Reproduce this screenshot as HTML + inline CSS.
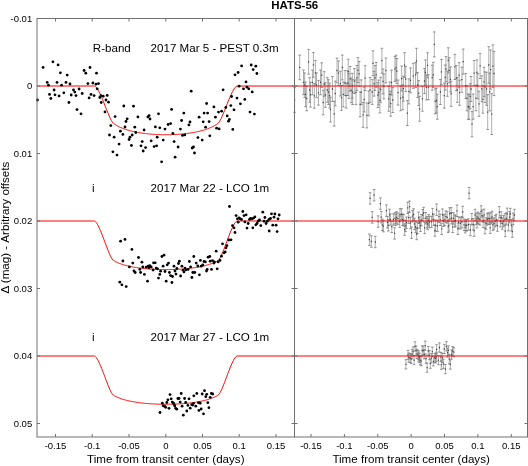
<!DOCTYPE html><html><head><meta charset="utf-8"><title>HATS-56</title><style>html,body{margin:0;padding:0;background:#fff;}svg{display:block;}text{font-family:"Liberation Sans",Arial,sans-serif;fill:#000;}</style></head><body>
<svg width="528" height="466" viewBox="0 0 528 466">
<rect width="528" height="466" fill="#fff"/>
<text x="294.7" y="8.6" font-size="11.5" font-weight="bold" text-anchor="middle">HATS-56</text>
<g font-size="9.5" text-anchor="middle">
<text x="55.5" y="449">-0.15</text><text x="311.0" y="449">-0.15</text>
<text x="92.2" y="449">-0.1</text><text x="344.4" y="449">-0.1</text>
<text x="129.0" y="449">-0.05</text><text x="377.8" y="449">-0.05</text>
<text x="165.8" y="449">0</text><text x="411.1" y="449">0</text>
<text x="202.5" y="449">0.05</text><text x="444.5" y="449">0.05</text>
<text x="239.2" y="449">0.1</text><text x="477.9" y="449">0.1</text>
<text x="276.0" y="449">0.15</text><text x="511.3" y="449">0.15</text>
</g>
<g font-size="9.5" text-anchor="end">
<text x="32.2" y="21.9">-0.01</text>
<text x="32.2" y="89.4">0</text>
<text x="32.2" y="156.9">0.01</text>
<text x="32.2" y="224.4">0.02</text>
<text x="32.2" y="291.9">0.03</text>
<text x="32.2" y="359.4">0.04</text>
<text x="32.2" y="426.9">0.05</text>
</g>
<g font-size="11.6" text-anchor="middle">
<text x="165.8" y="463.3">Time from transit center (days)</text>
<text x="411.1" y="463.3">Time from transit center (days)</text>
<text transform="translate(9.4 227.6) rotate(-90)">&#916; (mag) - Arbitrary offsets</text>
</g>
<g font-size="11.6">
<text x="92.8" y="52.2">R-band</text><text x="150.6" y="52.2">2017 Mar 5 - PEST 0.3m</text>
<text x="92.1" y="191.6">i</text><text x="150.6" y="191.6">2017 Mar 22 - LCO 1m</text>
<text x="92.1" y="340.8">i</text><text x="150.6" y="340.8">2017 Mar 27 - LCO 1m</text>
</g>
<polyline points="37.1,86.0 93.7,86.0 94.5,86.0 95.2,86.3 95.9,87.0 96.7,87.9 97.4,88.9 98.1,90.1 98.9,91.4 99.6,92.9 100.3,94.4 101.1,96.0 101.8,97.7 102.5,99.4 103.3,101.2 104.0,103.1 104.7,104.9 105.5,106.8 106.2,108.7 107.0,110.5 107.7,112.3 108.4,114.1 109.2,115.9 109.9,117.5 110.6,119.1 111.4,120.5 112.1,121.8 112.8,122.8 113.6,123.4 114.3,123.9 115.0,124.4 115.8,124.9 116.5,125.4 117.2,125.8 118.0,126.2 118.7,126.6 119.4,126.9 120.2,127.3 120.9,127.6 121.7,127.9 122.4,128.2 123.1,128.5 123.9,128.8 124.6,129.0 125.3,129.3 126.1,129.5 126.8,129.8 127.5,130.0 128.3,130.2 129.0,130.4 129.7,130.6 130.5,130.8 131.2,131.0 131.9,131.2 132.7,131.4 133.4,131.5 134.1,131.7 134.9,131.9 135.6,132.0 136.4,132.2 137.1,132.3 137.8,132.4 138.6,132.6 139.3,132.7 140.0,132.8 140.8,132.9 141.5,133.0 142.2,133.1 143.0,133.3 143.7,133.4 144.4,133.4 145.2,133.5 145.9,133.6 146.6,133.7 147.4,133.8 148.1,133.9 148.8,133.9 149.6,134.0 150.3,134.1 151.1,134.1 151.8,134.2 152.5,134.3 153.3,134.3 154.0,134.4 154.7,134.4 155.5,134.4 156.2,134.5 156.9,134.5 157.7,134.6 158.4,134.6 159.1,134.6 159.9,134.6 160.6,134.7 161.3,134.7 162.1,134.7 162.8,134.7 163.5,134.7 164.3,134.7 165.0,134.7 165.8,134.7 166.5,134.7 167.2,134.7 168.0,134.7 168.7,134.7 169.4,134.7 170.2,134.7 170.9,134.7 171.6,134.6 172.4,134.6 173.1,134.6 173.8,134.6 174.6,134.5 175.3,134.5 176.0,134.4 176.8,134.4 177.5,134.4 178.2,134.3 179.0,134.3 179.7,134.2 180.5,134.1 181.2,134.1 181.9,134.0 182.7,133.9 183.4,133.9 184.1,133.8 184.9,133.7 185.6,133.6 186.3,133.5 187.1,133.4 187.8,133.4 188.5,133.3 189.3,133.1 190.0,133.0 190.7,132.9 191.5,132.8 192.2,132.7 192.9,132.6 193.7,132.4 194.4,132.3 195.2,132.2 195.9,132.0 196.6,131.9 197.4,131.7 198.1,131.5 198.8,131.4 199.6,131.2 200.3,131.0 201.0,130.8 201.8,130.6 202.5,130.4 203.2,130.2 204.0,130.0 204.7,129.8 205.4,129.5 206.2,129.3 206.9,129.0 207.6,128.8 208.4,128.5 209.1,128.2 209.9,127.9 210.6,127.6 211.3,127.3 212.1,126.9 212.8,126.6 213.5,126.2 214.3,125.8 215.0,125.4 215.7,124.9 216.5,124.4 217.2,123.9 217.9,123.4 218.7,122.8 219.4,121.8 220.1,120.5 220.9,119.1 221.6,117.5 222.3,115.9 223.1,114.1 223.8,112.3 224.6,110.5 225.3,108.7 226.0,106.8 226.8,104.9 227.5,103.1 228.2,101.2 229.0,99.4 229.7,97.7 230.4,96.0 231.2,94.4 231.9,92.9 232.6,91.4 233.4,90.1 234.1,88.9 234.8,87.9 235.6,87.0 236.3,86.3 237.0,86.0 237.8,86.0 294.4,86.0" fill="none" stroke="#f00" stroke-width="1"/>
<polyline points="37.1,221.0 93.7,221.0 94.5,221.0 95.2,221.4 95.9,222.2 96.7,223.1 97.4,224.3 98.1,225.6 98.9,227.1 99.6,228.7 100.3,230.3 101.1,232.1 101.8,233.9 102.5,235.8 103.3,237.7 104.0,239.7 104.7,241.7 105.5,243.6 106.2,245.6 107.0,247.5 107.7,249.5 108.4,251.3 109.2,253.1 109.9,254.8 110.6,256.4 111.4,257.8 112.1,259.0 112.8,260.0 113.6,260.5 114.3,260.9 115.0,261.4 115.8,261.8 116.5,262.1 117.2,262.5 118.0,262.8 118.7,263.1 119.4,263.4 120.2,263.7 120.9,263.9 121.7,264.2 122.4,264.4 123.1,264.7 123.9,264.9 124.6,265.1 125.3,265.3 126.1,265.5 126.8,265.7 127.5,265.9 128.3,266.0 129.0,266.2 129.7,266.4 130.5,266.5 131.2,266.7 131.9,266.8 132.7,267.0 133.4,267.1 134.1,267.2 134.9,267.4 135.6,267.5 136.4,267.6 137.1,267.7 137.8,267.8 138.6,267.9 139.3,268.0 140.0,268.1 140.8,268.2 141.5,268.3 142.2,268.4 143.0,268.4 143.7,268.5 144.4,268.6 145.2,268.7 145.9,268.7 146.6,268.8 147.4,268.9 148.1,268.9 148.8,269.0 149.6,269.0 150.3,269.1 151.1,269.1 151.8,269.2 152.5,269.2 153.3,269.3 154.0,269.3 154.7,269.3 155.5,269.4 156.2,269.4 156.9,269.4 157.7,269.5 158.4,269.5 159.1,269.5 159.9,269.5 160.6,269.5 161.3,269.6 162.1,269.6 162.8,269.6 163.5,269.6 164.3,269.6 165.0,269.6 165.8,269.6 166.5,269.6 167.2,269.6 168.0,269.6 168.7,269.6 169.4,269.6 170.2,269.6 170.9,269.5 171.6,269.5 172.4,269.5 173.1,269.5 173.8,269.5 174.6,269.4 175.3,269.4 176.0,269.4 176.8,269.3 177.5,269.3 178.2,269.3 179.0,269.2 179.7,269.2 180.5,269.1 181.2,269.1 181.9,269.0 182.7,269.0 183.4,268.9 184.1,268.9 184.9,268.8 185.6,268.7 186.3,268.7 187.1,268.6 187.8,268.5 188.5,268.4 189.3,268.4 190.0,268.3 190.7,268.2 191.5,268.1 192.2,268.0 192.9,267.9 193.7,267.8 194.4,267.7 195.2,267.6 195.9,267.5 196.6,267.4 197.4,267.2 198.1,267.1 198.8,267.0 199.6,266.8 200.3,266.7 201.0,266.5 201.8,266.4 202.5,266.2 203.2,266.0 204.0,265.9 204.7,265.7 205.4,265.5 206.2,265.3 206.9,265.1 207.6,264.9 208.4,264.7 209.1,264.4 209.9,264.2 210.6,263.9 211.3,263.7 212.1,263.4 212.8,263.1 213.5,262.8 214.3,262.5 215.0,262.1 215.7,261.8 216.5,261.4 217.2,260.9 217.9,260.5 218.7,260.0 219.4,259.0 220.1,257.8 220.9,256.4 221.6,254.8 222.3,253.1 223.1,251.3 223.8,249.5 224.6,247.5 225.3,245.6 226.0,243.6 226.8,241.7 227.5,239.7 228.2,237.7 229.0,235.8 229.7,233.9 230.4,232.1 231.2,230.3 231.9,228.7 232.6,227.1 233.4,225.6 234.1,224.3 234.8,223.1 235.6,222.2 236.3,221.4 237.0,221.0 237.8,221.0 294.4,221.0" fill="none" stroke="#f00" stroke-width="1"/>
<polyline points="37.1,356.0 93.7,356.0 94.5,356.0 95.2,356.4 95.9,357.1 96.7,358.1 97.4,359.3 98.1,360.6 98.9,362.0 99.6,363.6 100.3,365.3 101.1,367.0 101.8,368.8 102.5,370.7 103.3,372.6 104.0,374.5 104.7,376.5 105.5,378.5 106.2,380.4 107.0,382.4 107.7,384.3 108.4,386.1 109.2,387.9 109.9,389.6 110.6,391.1 111.4,392.6 112.1,393.8 112.8,394.7 113.6,395.2 114.3,395.7 115.0,396.1 115.8,396.5 116.5,396.8 117.2,397.2 118.0,397.5 118.7,397.8 119.4,398.1 120.2,398.4 120.9,398.6 121.7,398.9 122.4,399.1 123.1,399.4 123.9,399.6 124.6,399.8 125.3,400.0 126.1,400.2 126.8,400.4 127.5,400.6 128.3,400.7 129.0,400.9 129.7,401.1 130.5,401.2 131.2,401.4 131.9,401.5 132.7,401.6 133.4,401.8 134.1,401.9 134.9,402.0 135.6,402.1 136.4,402.3 137.1,402.4 137.8,402.5 138.6,402.6 139.3,402.7 140.0,402.8 140.8,402.9 141.5,403.0 142.2,403.0 143.0,403.1 143.7,403.2 144.4,403.3 145.2,403.3 145.9,403.4 146.6,403.5 147.4,403.5 148.1,403.6 148.8,403.7 149.6,403.7 150.3,403.8 151.1,403.8 151.8,403.9 152.5,403.9 153.3,403.9 154.0,404.0 154.7,404.0 155.5,404.0 156.2,404.1 156.9,404.1 157.7,404.1 158.4,404.2 159.1,404.2 159.9,404.2 160.6,404.2 161.3,404.2 162.1,404.2 162.8,404.2 163.5,404.3 164.3,404.3 165.0,404.3 165.8,404.3 166.5,404.3 167.2,404.3 168.0,404.3 168.7,404.2 169.4,404.2 170.2,404.2 170.9,404.2 171.6,404.2 172.4,404.2 173.1,404.2 173.8,404.1 174.6,404.1 175.3,404.1 176.0,404.0 176.8,404.0 177.5,404.0 178.2,403.9 179.0,403.9 179.7,403.9 180.5,403.8 181.2,403.8 181.9,403.7 182.7,403.7 183.4,403.6 184.1,403.5 184.9,403.5 185.6,403.4 186.3,403.3 187.1,403.3 187.8,403.2 188.5,403.1 189.3,403.0 190.0,403.0 190.7,402.9 191.5,402.8 192.2,402.7 192.9,402.6 193.7,402.5 194.4,402.4 195.2,402.3 195.9,402.1 196.6,402.0 197.4,401.9 198.1,401.8 198.8,401.6 199.6,401.5 200.3,401.4 201.0,401.2 201.8,401.1 202.5,400.9 203.2,400.7 204.0,400.6 204.7,400.4 205.4,400.2 206.2,400.0 206.9,399.8 207.6,399.6 208.4,399.4 209.1,399.1 209.9,398.9 210.6,398.6 211.3,398.4 212.1,398.1 212.8,397.8 213.5,397.5 214.3,397.2 215.0,396.8 215.7,396.5 216.5,396.1 217.2,395.7 217.9,395.2 218.7,394.7 219.4,393.8 220.1,392.6 220.9,391.1 221.6,389.6 222.3,387.9 223.1,386.1 223.8,384.3 224.6,382.4 225.3,380.4 226.0,378.5 226.8,376.5 227.5,374.5 228.2,372.6 229.0,370.7 229.7,368.8 230.4,367.0 231.2,365.3 231.9,363.6 232.6,362.0 233.4,360.6 234.1,359.3 234.8,358.1 235.6,357.1 236.3,356.4 237.0,356.0 237.8,356.0 294.4,356.0" fill="none" stroke="#f00" stroke-width="1"/>
<g fill="#000">
<circle cx="43.1" cy="67.4" r="1.4"/>
<circle cx="52.9" cy="61.8" r="1.4"/>
<circle cx="58.1" cy="64.9" r="1.4"/>
<circle cx="60.4" cy="72.8" r="1.4"/>
<circle cx="67.2" cy="75.1" r="1.4"/>
<circle cx="84.1" cy="70.5" r="1.4"/>
<circle cx="85.8" cy="73.2" r="1.4"/>
<circle cx="90.0" cy="67.5" r="1.4"/>
<circle cx="96.5" cy="73.2" r="1.4"/>
<circle cx="47.2" cy="82.4" r="1.4"/>
<circle cx="57.0" cy="82.4" r="1.4"/>
<circle cx="66.0" cy="82.4" r="1.4"/>
<circle cx="70.0" cy="84.0" r="1.4"/>
<circle cx="48.5" cy="85.2" r="1.4"/>
<circle cx="61.6" cy="85.2" r="1.4"/>
<circle cx="87.9" cy="83.6" r="1.4"/>
<circle cx="92.9" cy="83.0" r="1.4"/>
<circle cx="96.0" cy="84.2" r="1.4"/>
<circle cx="98.5" cy="83.6" r="1.4"/>
<circle cx="54.1" cy="90.0" r="1.4"/>
<circle cx="49.5" cy="94.4" r="1.4"/>
<circle cx="50.8" cy="98.5" r="1.4"/>
<circle cx="55.0" cy="94.8" r="1.4"/>
<circle cx="59.1" cy="95.9" r="1.4"/>
<circle cx="63.8" cy="92.8" r="1.4"/>
<circle cx="73.5" cy="90.0" r="1.4"/>
<circle cx="74.8" cy="92.1" r="1.4"/>
<circle cx="71.2" cy="95.0" r="1.4"/>
<circle cx="76.0" cy="95.6" r="1.4"/>
<circle cx="79.1" cy="89.0" r="1.4"/>
<circle cx="82.2" cy="93.5" r="1.4"/>
<circle cx="68.9" cy="102.5" r="1.4"/>
<circle cx="77.0" cy="109.6" r="1.4"/>
<circle cx="81.0" cy="113.8" r="1.4"/>
<circle cx="89.1" cy="97.9" r="1.4"/>
<circle cx="91.0" cy="94.4" r="1.4"/>
<circle cx="94.1" cy="95.6" r="1.4"/>
<circle cx="97.2" cy="88.8" r="1.4"/>
<circle cx="99.8" cy="97.5" r="1.4"/>
<circle cx="101.2" cy="102.5" r="1.4"/>
<circle cx="37.5" cy="100.0" r="1.4"/>
<circle cx="101.0" cy="95.6" r="1.4"/>
<circle cx="103.2" cy="96.2" r="1.4"/>
<circle cx="107.2" cy="95.4" r="1.4"/>
<circle cx="106.0" cy="100.0" r="1.4"/>
<circle cx="108.5" cy="102.2" r="1.4"/>
<circle cx="105.0" cy="111.9" r="1.4"/>
<circle cx="123.8" cy="106.0" r="1.4"/>
<circle cx="133.5" cy="106.2" r="1.4"/>
<circle cx="115.1" cy="116.6" r="1.4"/>
<circle cx="127.2" cy="118.8" r="1.4"/>
<circle cx="126.0" cy="121.5" r="1.4"/>
<circle cx="137.9" cy="116.9" r="1.4"/>
<circle cx="147.9" cy="116.9" r="1.4"/>
<circle cx="149.1" cy="115.6" r="1.4"/>
<circle cx="150.0" cy="119.0" r="1.4"/>
<circle cx="158.5" cy="113.8" r="1.4"/>
<circle cx="110.8" cy="125.6" r="1.4"/>
<circle cx="125.0" cy="126.9" r="1.4"/>
<circle cx="134.8" cy="127.2" r="1.4"/>
<circle cx="144.1" cy="130.0" r="1.4"/>
<circle cx="155.4" cy="126.9" r="1.4"/>
<circle cx="159.8" cy="127.8" r="1.4"/>
<circle cx="120.4" cy="131.2" r="1.4"/>
<circle cx="122.9" cy="134.4" r="1.4"/>
<circle cx="135.8" cy="132.5" r="1.4"/>
<circle cx="132.2" cy="135.0" r="1.4"/>
<circle cx="109.5" cy="135.0" r="1.4"/>
<circle cx="114.1" cy="137.2" r="1.4"/>
<circle cx="130.0" cy="137.2" r="1.4"/>
<circle cx="157.2" cy="137.2" r="1.4"/>
<circle cx="129.1" cy="139.5" r="1.4"/>
<circle cx="119.1" cy="144.1" r="1.4"/>
<circle cx="131.4" cy="145.5" r="1.4"/>
<circle cx="112.9" cy="151.8" r="1.4"/>
<circle cx="117.0" cy="155.1" r="1.4"/>
<circle cx="142.2" cy="141.6" r="1.4"/>
<circle cx="141.0" cy="145.8" r="1.4"/>
<circle cx="145.6" cy="147.6" r="1.4"/>
<circle cx="143.2" cy="151.0" r="1.4"/>
<circle cx="151.2" cy="140.8" r="1.4"/>
<circle cx="154.1" cy="146.6" r="1.4"/>
<circle cx="156.6" cy="145.8" r="1.4"/>
<circle cx="161.6" cy="161.8" r="1.4"/>
<circle cx="191.2" cy="91.2" r="1.4"/>
<circle cx="206.6" cy="103.5" r="1.4"/>
<circle cx="213.9" cy="106.9" r="1.4"/>
<circle cx="171.6" cy="109.4" r="1.4"/>
<circle cx="183.8" cy="113.1" r="1.4"/>
<circle cx="204.1" cy="113.1" r="1.4"/>
<circle cx="207.6" cy="113.1" r="1.4"/>
<circle cx="218.5" cy="112.1" r="1.4"/>
<circle cx="221.6" cy="111.2" r="1.4"/>
<circle cx="199.1" cy="117.2" r="1.4"/>
<circle cx="215.4" cy="117.2" r="1.4"/>
<circle cx="181.6" cy="120.5" r="1.4"/>
<circle cx="190.0" cy="122.0" r="1.4"/>
<circle cx="188.9" cy="124.9" r="1.4"/>
<circle cx="203.2" cy="121.8" r="1.4"/>
<circle cx="209.1" cy="121.6" r="1.4"/>
<circle cx="168.1" cy="124.5" r="1.4"/>
<circle cx="170.6" cy="123.6" r="1.4"/>
<circle cx="165.0" cy="129.1" r="1.4"/>
<circle cx="180.4" cy="129.1" r="1.4"/>
<circle cx="205.6" cy="127.2" r="1.4"/>
<circle cx="216.6" cy="128.2" r="1.4"/>
<circle cx="219.1" cy="128.9" r="1.4"/>
<circle cx="172.9" cy="133.5" r="1.4"/>
<circle cx="182.5" cy="135.4" r="1.4"/>
<circle cx="184.8" cy="134.9" r="1.4"/>
<circle cx="163.2" cy="140.1" r="1.4"/>
<circle cx="174.1" cy="141.6" r="1.4"/>
<circle cx="197.9" cy="137.6" r="1.4"/>
<circle cx="202.2" cy="140.1" r="1.4"/>
<circle cx="209.8" cy="135.8" r="1.4"/>
<circle cx="178.1" cy="147.0" r="1.4"/>
<circle cx="192.2" cy="148.0" r="1.4"/>
<circle cx="193.5" cy="147.0" r="1.4"/>
<circle cx="194.5" cy="153.0" r="1.4"/>
<circle cx="175.1" cy="157.2" r="1.4"/>
<circle cx="241.6" cy="65.9" r="1.4"/>
<circle cx="251.2" cy="65.0" r="1.4"/>
<circle cx="255.8" cy="66.2" r="1.4"/>
<circle cx="253.2" cy="69.6" r="1.4"/>
<circle cx="256.9" cy="73.5" r="1.4"/>
<circle cx="238.1" cy="72.5" r="1.4"/>
<circle cx="235.0" cy="74.8" r="1.4"/>
<circle cx="246.0" cy="81.9" r="1.4"/>
<circle cx="239.1" cy="86.2" r="1.4"/>
<circle cx="243.5" cy="88.8" r="1.4"/>
<circle cx="247.0" cy="87.2" r="1.4"/>
<circle cx="248.8" cy="88.8" r="1.4"/>
<circle cx="252.2" cy="91.9" r="1.4"/>
<circle cx="223.1" cy="89.8" r="1.4"/>
<circle cx="231.6" cy="96.5" r="1.4"/>
<circle cx="237.0" cy="98.1" r="1.4"/>
<circle cx="244.8" cy="99.4" r="1.4"/>
<circle cx="240.4" cy="103.8" r="1.4"/>
<circle cx="230.8" cy="105.6" r="1.4"/>
<circle cx="225.8" cy="107.5" r="1.4"/>
<circle cx="234.0" cy="109.8" r="1.4"/>
<circle cx="250.0" cy="112.1" r="1.4"/>
<circle cx="254.4" cy="114.1" r="1.4"/>
<circle cx="227.2" cy="115.9" r="1.4"/>
<circle cx="229.4" cy="119.4" r="1.4"/>
<circle cx="228.5" cy="121.2" r="1.4"/>
<circle cx="232.8" cy="129.4" r="1.4"/>
<circle cx="120.6" cy="241.2" r="1.4"/>
<circle cx="125.0" cy="239.4" r="1.4"/>
<circle cx="131.9" cy="249.4" r="1.4"/>
<circle cx="138.5" cy="257.5" r="1.4"/>
<circle cx="122.9" cy="261.0" r="1.4"/>
<circle cx="132.8" cy="263.1" r="1.4"/>
<circle cx="129.4" cy="266.9" r="1.4"/>
<circle cx="141.9" cy="262.2" r="1.4"/>
<circle cx="142.8" cy="266.9" r="1.4"/>
<circle cx="139.8" cy="269.4" r="1.4"/>
<circle cx="134.0" cy="271.0" r="1.4"/>
<circle cx="135.2" cy="272.5" r="1.4"/>
<circle cx="140.6" cy="272.5" r="1.4"/>
<circle cx="144.4" cy="274.4" r="1.4"/>
<circle cx="146.2" cy="267.2" r="1.4"/>
<circle cx="148.1" cy="266.2" r="1.4"/>
<circle cx="149.8" cy="265.6" r="1.4"/>
<circle cx="151.2" cy="266.9" r="1.4"/>
<circle cx="149.0" cy="267.8" r="1.4"/>
<circle cx="153.5" cy="262.8" r="1.4"/>
<circle cx="155.2" cy="262.8" r="1.4"/>
<circle cx="153.1" cy="270.0" r="1.4"/>
<circle cx="156.2" cy="268.1" r="1.4"/>
<circle cx="157.5" cy="268.8" r="1.4"/>
<circle cx="161.9" cy="256.5" r="1.4"/>
<circle cx="164.0" cy="255.2" r="1.4"/>
<circle cx="163.1" cy="266.2" r="1.4"/>
<circle cx="167.2" cy="264.8" r="1.4"/>
<circle cx="168.5" cy="263.1" r="1.4"/>
<circle cx="160.6" cy="271.2" r="1.4"/>
<circle cx="165.0" cy="271.5" r="1.4"/>
<circle cx="159.8" cy="274.4" r="1.4"/>
<circle cx="158.5" cy="278.1" r="1.4"/>
<circle cx="169.4" cy="272.5" r="1.4"/>
<circle cx="170.6" cy="275.6" r="1.4"/>
<circle cx="172.5" cy="276.5" r="1.4"/>
<circle cx="174.0" cy="266.2" r="1.4"/>
<circle cx="175.0" cy="271.0" r="1.4"/>
<circle cx="166.2" cy="281.2" r="1.4"/>
<circle cx="147.5" cy="281.2" r="1.4"/>
<circle cx="119.8" cy="282.2" r="1.4"/>
<circle cx="171.9" cy="282.5" r="1.4"/>
<circle cx="121.9" cy="284.8" r="1.4"/>
<circle cx="126.2" cy="286.6" r="1.4"/>
<circle cx="179.4" cy="261.2" r="1.4"/>
<circle cx="178.5" cy="263.5" r="1.4"/>
<circle cx="181.9" cy="266.2" r="1.4"/>
<circle cx="176.9" cy="268.5" r="1.4"/>
<circle cx="183.1" cy="270.2" r="1.4"/>
<circle cx="184.0" cy="271.9" r="1.4"/>
<circle cx="186.0" cy="269.8" r="1.4"/>
<circle cx="188.1" cy="269.4" r="1.4"/>
<circle cx="185.0" cy="268.1" r="1.4"/>
<circle cx="189.4" cy="261.5" r="1.4"/>
<circle cx="190.6" cy="266.9" r="1.4"/>
<circle cx="193.8" cy="256.5" r="1.4"/>
<circle cx="192.8" cy="272.5" r="1.4"/>
<circle cx="194.8" cy="272.5" r="1.4"/>
<circle cx="196.2" cy="263.1" r="1.4"/>
<circle cx="197.8" cy="266.0" r="1.4"/>
<circle cx="200.4" cy="260.4" r="1.4"/>
<circle cx="201.2" cy="266.2" r="1.4"/>
<circle cx="202.8" cy="265.0" r="1.4"/>
<circle cx="204.0" cy="261.5" r="1.4"/>
<circle cx="205.4" cy="261.9" r="1.4"/>
<circle cx="208.1" cy="257.2" r="1.4"/>
<circle cx="209.8" cy="256.5" r="1.4"/>
<circle cx="210.2" cy="261.2" r="1.4"/>
<circle cx="212.5" cy="260.6" r="1.4"/>
<circle cx="214.4" cy="261.9" r="1.4"/>
<circle cx="214.0" cy="263.1" r="1.4"/>
<circle cx="216.2" cy="251.2" r="1.4"/>
<circle cx="218.1" cy="261.9" r="1.4"/>
<circle cx="220.0" cy="260.4" r="1.4"/>
<circle cx="221.5" cy="256.2" r="1.4"/>
<circle cx="222.5" cy="243.8" r="1.4"/>
<circle cx="224.0" cy="252.8" r="1.4"/>
<circle cx="225.2" cy="251.9" r="1.4"/>
<circle cx="226.0" cy="247.8" r="1.4"/>
<circle cx="226.9" cy="245.6" r="1.4"/>
<circle cx="228.8" cy="240.0" r="1.4"/>
<circle cx="231.0" cy="239.8" r="1.4"/>
<circle cx="232.5" cy="225.6" r="1.4"/>
<circle cx="234.0" cy="227.8" r="1.4"/>
<circle cx="235.0" cy="232.5" r="1.4"/>
<circle cx="206.5" cy="271.0" r="1.4"/>
<circle cx="207.2" cy="269.4" r="1.4"/>
<circle cx="211.5" cy="269.4" r="1.4"/>
<circle cx="217.2" cy="268.8" r="1.4"/>
<circle cx="176.0" cy="274.1" r="1.4"/>
<circle cx="180.6" cy="276.0" r="1.4"/>
<circle cx="191.9" cy="277.5" r="1.4"/>
<circle cx="199.4" cy="274.8" r="1.4"/>
<circle cx="229.5" cy="206.5" r="1.4"/>
<circle cx="236.1" cy="215.6" r="1.4"/>
<circle cx="237.4" cy="218.8" r="1.4"/>
<circle cx="239.0" cy="217.8" r="1.4"/>
<circle cx="240.2" cy="218.8" r="1.4"/>
<circle cx="241.5" cy="219.4" r="1.4"/>
<circle cx="238.2" cy="222.2" r="1.4"/>
<circle cx="242.8" cy="211.5" r="1.4"/>
<circle cx="244.0" cy="215.6" r="1.4"/>
<circle cx="246.1" cy="214.8" r="1.4"/>
<circle cx="244.9" cy="221.9" r="1.4"/>
<circle cx="248.2" cy="223.5" r="1.4"/>
<circle cx="247.0" cy="228.1" r="1.4"/>
<circle cx="249.5" cy="219.4" r="1.4"/>
<circle cx="250.5" cy="218.5" r="1.4"/>
<circle cx="252.0" cy="218.8" r="1.4"/>
<circle cx="253.6" cy="218.1" r="1.4"/>
<circle cx="254.9" cy="216.9" r="1.4"/>
<circle cx="252.8" cy="227.8" r="1.4"/>
<circle cx="255.8" cy="224.8" r="1.4"/>
<circle cx="257.0" cy="223.5" r="1.4"/>
<circle cx="258.2" cy="221.2" r="1.4"/>
<circle cx="259.5" cy="220.0" r="1.4"/>
<circle cx="260.8" cy="225.6" r="1.4"/>
<circle cx="262.8" cy="212.2" r="1.4"/>
<circle cx="264.9" cy="217.5" r="1.4"/>
<circle cx="264.0" cy="221.2" r="1.4"/>
<circle cx="266.1" cy="223.5" r="1.4"/>
<circle cx="267.4" cy="221.2" r="1.4"/>
<circle cx="269.0" cy="219.4" r="1.4"/>
<circle cx="270.5" cy="218.5" r="1.4"/>
<circle cx="271.5" cy="213.8" r="1.4"/>
<circle cx="274.9" cy="214.0" r="1.4"/>
<circle cx="274.0" cy="217.2" r="1.4"/>
<circle cx="279.2" cy="215.0" r="1.4"/>
<circle cx="278.0" cy="218.8" r="1.4"/>
<circle cx="272.8" cy="225.2" r="1.4"/>
<circle cx="276.1" cy="225.2" r="1.4"/>
<circle cx="269.2" cy="231.0" r="1.4"/>
<circle cx="277.1" cy="231.6" r="1.4"/>
<circle cx="160.0" cy="412.5" r="1.4"/>
<circle cx="162.3" cy="403.2" r="1.4"/>
<circle cx="163.2" cy="405.8" r="1.4"/>
<circle cx="164.6" cy="406.2" r="1.4"/>
<circle cx="165.7" cy="407.3" r="1.4"/>
<circle cx="166.8" cy="402.5" r="1.4"/>
<circle cx="167.9" cy="399.8" r="1.4"/>
<circle cx="169.0" cy="408.3" r="1.4"/>
<circle cx="170.0" cy="394.6" r="1.4"/>
<circle cx="171.2" cy="398.8" r="1.4"/>
<circle cx="172.3" cy="402.1" r="1.4"/>
<circle cx="173.5" cy="403.2" r="1.4"/>
<circle cx="174.2" cy="404.8" r="1.4"/>
<circle cx="174.8" cy="406.0" r="1.4"/>
<circle cx="175.7" cy="408.3" r="1.4"/>
<circle cx="176.8" cy="409.2" r="1.4"/>
<circle cx="177.9" cy="398.5" r="1.4"/>
<circle cx="179.0" cy="398.5" r="1.4"/>
<circle cx="180.2" cy="402.1" r="1.4"/>
<circle cx="181.2" cy="393.5" r="1.4"/>
<circle cx="182.1" cy="406.2" r="1.4"/>
<circle cx="183.3" cy="415.2" r="1.4"/>
<circle cx="184.6" cy="398.5" r="1.4"/>
<circle cx="185.7" cy="402.5" r="1.4"/>
<circle cx="186.8" cy="411.0" r="1.4"/>
<circle cx="187.9" cy="405.4" r="1.4"/>
<circle cx="189.0" cy="398.8" r="1.4"/>
<circle cx="190.2" cy="408.2" r="1.4"/>
<circle cx="191.7" cy="404.6" r="1.4"/>
<circle cx="192.7" cy="405.0" r="1.4"/>
<circle cx="193.8" cy="395.8" r="1.4"/>
<circle cx="193.5" cy="403.3" r="1.4"/>
<circle cx="196.8" cy="393.5" r="1.4"/>
<circle cx="195.8" cy="406.2" r="1.4"/>
<circle cx="198.5" cy="402.7" r="1.4"/>
<circle cx="200.2" cy="403.2" r="1.4"/>
<circle cx="198.9" cy="410.4" r="1.4"/>
<circle cx="201.2" cy="409.0" r="1.4"/>
<circle cx="202.2" cy="394.0" r="1.4"/>
<circle cx="203.5" cy="413.8" r="1.4"/>
<circle cx="204.5" cy="390.7" r="1.4"/>
<circle cx="205.8" cy="396.7" r="1.4"/>
<circle cx="206.7" cy="394.3" r="1.4"/>
<circle cx="207.8" cy="402.7" r="1.4"/>
<circle cx="208.9" cy="407.7" r="1.4"/>
<circle cx="210.2" cy="397.3" r="1.4"/>
<circle cx="211.4" cy="393.5" r="1.4"/>
<circle cx="212.7" cy="394.0" r="1.4"/>
</g>
<path d="M299.7 55.1V79.7M308.6 49.4V74.1M313.4 52.6V77.2M315.4 60.4V85.1M321.7 62.8V87.4M337.0 58.1V82.9M338.5 60.9V85.6M342.3 55.1V79.9M348.2 59.2V84.0M303.5 70.1V94.7M312.4 70.1V94.7M320.5 70.1V94.7M324.2 71.7V96.3M304.6 72.9V97.6M316.5 72.9V97.6M340.4 71.2V96.0M345.0 70.6V95.4M347.8 70.8V95.5M350.1 66.5V91.2M309.7 77.7V102.3M305.5 82.1V106.7M306.7 86.2V110.8M310.5 82.4V107.1M314.3 83.6V108.2M318.5 80.4V105.1M327.3 77.7V102.3M328.5 79.7V104.5M325.3 82.7V107.3M329.6 83.2V108.0M332.4 76.6V101.4M335.3 81.1V105.9M323.2 90.2V114.8M330.5 97.2V122.0M334.2 101.4V126.1M341.5 85.5V110.3M343.2 82.0V106.8M346.1 83.2V108.0M348.9 73.7V98.4M351.2 78.0V102.7M352.6 79.7V104.5M294.6 87.7V112.3M352.3 73.4V98.1M354.4 68.7V93.5M358.0 57.7V82.5M356.9 65.5V90.3M359.1 61.5V86.3M356.0 79.9V104.7M373.0 50.8V75.7M381.9 48.3V73.1M365.1 65.7V90.5M376.2 62.4V87.3M375.0 65.6V90.4M385.9 58.0V82.9M394.9 56.6V81.5M396.0 55.2V80.1M396.8 58.5V83.4M404.6 52.7V77.6M361.2 79.9V104.7M374.1 71.3V96.1M383.0 69.0V93.9M391.5 70.1V95.0M401.7 66.0V90.9M405.7 66.6V91.6M370.0 77.5V102.3M372.2 79.6V104.4M383.9 74.0V98.9M380.7 77.3V102.2M360.1 92.0V116.8M364.2 87.1V111.9M378.7 80.1V105.0M403.4 76.2V101.2M377.9 82.6V107.5M368.8 90.9V115.8M379.9 88.0V112.9M363.1 102.5V127.3M366.9 103.0V127.9M389.8 82.0V106.9M388.7 86.3V111.2M392.8 87.6V112.5M390.7 91.3V116.2M398.0 80.1V105.0M400.6 85.8V110.7M402.8 84.8V109.7M407.4 100.6V125.5M434.3 31.9V56.9M448.3 47.8V72.9M454.9 54.4V79.5M416.5 48.3V73.2M427.5 52.8V77.8M446.0 56.6V81.7M449.2 57.8V82.8M459.1 62.7V87.7M461.9 67.2V92.3M441.4 59.4V84.5M456.3 65.6V90.7M425.5 60.0V85.0M433.2 62.4V87.5M432.2 65.2V90.2M445.2 65.0V90.1M450.5 66.9V91.9M413.3 63.3V88.3M415.6 62.4V87.4M410.5 67.9V92.8M424.5 68.5V93.5M447.4 71.2V96.3M457.3 77.4V102.4M459.6 80.2V105.3M417.6 72.4V97.4M426.4 74.9V99.9M428.4 74.7V99.7M408.9 78.9V103.9M418.7 80.6V105.5M440.4 79.5V104.5M444.3 83.1V108.1M451.1 81.3V106.3M422.4 86.2V111.2M435.2 88.8V113.8M436.4 88.0V113.0M437.3 94.2V119.2M419.6 96.3V121.2M480.1 53.3V78.5M488.8 46.7V83.3M492.9 44.9V87.6M490.6 50.0V89.2M494.0 51.4V95.6M476.9 59.9V85.1M474.1 60.5V85.6M484.1 67.2V96.6M477.8 73.7V98.8M481.8 75.8V101.7M485.0 71.9V102.6M486.6 72.2V105.3M489.7 73.0V110.8M463.2 49.1V74.2M471.0 76.5V101.6M475.9 85.5V110.7M482.9 85.6V113.2M479.0 91.2V116.3M470.2 83.7V108.9M465.7 73.5V98.6M473.2 94.1V119.2M487.7 94.7V129.5M491.7 93.7V134.5M467.0 85.7V110.8M469.0 94.4V119.6M468.2 94.1V119.2M472.0 111.6V136.8M370.1 192.7V204.1M374.1 189.5V200.9M380.4 197.9V209.3M386.4 204.9V216.3M372.2 211.7V223.1M381.2 211.4V222.8M378.1 215.9V227.3M389.5 209.2V220.6M390.3 213.8V225.2M387.5 216.6V228.0M382.3 219.1V230.5M383.4 220.4V231.8M388.3 219.6V231.0M391.8 221.1V232.5M393.4 213.8V225.2M395.1 212.6V224.0M396.6 211.8V223.2M398.0 213.0V224.4M395.9 214.1V225.5M400.0 208.8V220.2M401.6 208.7V220.1M399.7 216.0V227.4M402.5 214.0V225.4M403.7 214.6V226.0M407.7 202.2V213.6M409.6 201.0V212.4M408.7 212.0V223.4M412.5 210.5V221.9M413.6 208.8V220.2M406.5 217.0V228.4M410.5 217.2V228.6M405.7 220.2V231.6M404.6 223.9V235.3M414.5 218.2V229.6M415.6 221.3V232.7M417.3 222.3V233.7M418.6 212.1V223.5M419.6 216.9V228.3M411.6 227.0V238.4M394.6 227.7V239.1M369.4 234.0V245.4M416.7 228.3V239.7M371.3 235.8V247.2M375.3 236.3V247.7M423.6 207.3V218.7M422.7 209.5V220.9M425.8 212.5V223.9M421.3 214.5V225.9M426.9 216.6V228.0M427.7 218.3V229.7M429.5 216.3V227.7M431.5 216.2V227.6M428.6 214.6V226.0M432.6 208.4V219.8M433.7 214.0V225.4M436.6 204.0V215.4M435.7 219.9V231.3M437.5 220.2V231.6M438.9 211.0V222.4M440.2 214.1V225.5M442.6 209.0V220.4M443.4 215.1V226.5M444.8 214.1V225.5M445.9 210.9V222.3M447.2 211.7V223.1M449.6 207.8V219.2M451.1 207.6V219.0M451.6 212.5V223.9M453.6 212.7V224.1M455.3 214.8V226.2M455.0 215.8V227.2M457.0 205.1V216.5M458.7 216.8V228.2M460.4 217.6V229.0M461.8 216.5V227.9M462.7 206.3V217.7M464.1 219.1V230.5M465.2 221.5V232.9M465.9 219.4V230.8M466.7 219.6V231.0M468.4 218.9V230.3M470.4 224.3V235.7M471.8 213.5V224.9M473.2 218.6V230.0M474.1 224.9V236.3M448.2 221.1V232.5M448.9 219.7V231.1M452.7 221.1V232.5M457.9 223.1V234.5M420.5 220.0V231.4M424.6 222.2V233.6M434.9 224.8V236.2M441.7 223.2V234.6M469.1 187.4V198.8M475.1 209.3V220.7M476.2 213.1V224.4M477.7 212.1V223.4M478.8 213.1V224.4M480.0 213.7V225.1M477.0 216.6V227.9M481.1 205.8V217.2M482.2 209.9V221.3M484.1 209.1V220.4M483.1 216.2V227.6M486.1 217.8V229.2M485.0 222.4V233.8M487.2 213.7V225.1M488.1 212.8V224.2M489.5 213.1V224.4M491.0 212.4V223.8M492.1 211.2V222.6M490.2 222.1V233.4M492.9 219.1V230.4M494.0 217.8V229.2M495.2 215.6V226.9M496.3 214.3V225.7M497.5 219.9V231.3M499.3 206.6V217.9M501.2 211.8V223.2M500.4 215.6V226.9M502.3 217.8V229.2M503.5 215.6V226.9M504.9 213.7V225.1M506.3 212.8V224.2M507.2 208.1V219.4M510.3 208.3V219.7M509.5 211.6V222.9M514.3 209.3V220.7M513.1 213.1V224.4M508.4 219.6V230.9M511.4 219.6V230.9M505.2 225.3V236.7M512.3 225.9V237.3M405.9 359.7V368.9M408.0 350.4V359.6M408.8 353.0V362.2M410.1 353.4V362.6M411.1 354.4V363.6M412.1 349.6V358.8M413.1 346.9V356.1M414.1 355.5V364.7M415.0 341.8V351.0M416.1 346.0V355.2M417.1 349.3V358.5M418.2 350.5V359.7M418.8 352.1V361.3M419.4 353.3V362.5M420.2 355.6V364.8M421.2 356.6V365.8M422.2 345.9V355.1M423.2 346.0V355.2M424.3 349.7V358.9M425.2 341.1V350.3M426.0 354.0V363.2M427.1 363.0V372.2M428.3 346.4V355.6M429.3 350.5V359.7M430.3 359.1V368.3M431.3 353.6V362.8M432.3 347.1V356.3M433.4 356.7V365.9M434.7 353.3V362.5M435.6 353.8V363.0M436.6 344.7V353.9M436.4 352.2V361.4M439.4 342.9V352.1M438.4 355.5V364.7M440.9 352.4V361.6M442.4 353.2V362.4M441.3 360.2V369.4M443.4 359.2V368.4M444.3 344.4V353.6M445.4 364.5V373.7M446.4 341.7V350.9M447.5 348.0V357.2M448.4 345.8V355.0M449.3 354.6V363.8M450.3 359.9V369.1M451.5 349.9V359.1M452.6 346.6V355.8M453.8 347.6V356.8" stroke="#939393" stroke-width="0.75" fill="none"/>
<path d="M298.4 55.1h2.6M298.4 79.7h2.6M307.3 49.4h2.6M307.3 74.1h2.6M312.1 52.6h2.6M312.1 77.2h2.6M314.1 60.4h2.6M314.1 85.1h2.6M320.4 62.8h2.6M320.4 87.4h2.6M335.7 58.1h2.6M335.7 82.9h2.6M337.2 60.9h2.6M337.2 85.6h2.6M341.0 55.1h2.6M341.0 79.9h2.6M346.9 59.2h2.6M346.9 84.0h2.6M302.2 70.1h2.6M302.2 94.7h2.6M311.1 70.1h2.6M311.1 94.7h2.6M319.2 70.1h2.6M319.2 94.7h2.6M322.9 71.7h2.6M322.9 96.3h2.6M303.3 72.9h2.6M303.3 97.6h2.6M315.2 72.9h2.6M315.2 97.6h2.6M339.1 71.2h2.6M339.1 96.0h2.6M343.7 70.6h2.6M343.7 95.4h2.6M346.5 70.8h2.6M346.5 95.5h2.6M348.8 66.5h2.6M348.8 91.2h2.6M308.4 77.7h2.6M308.4 102.3h2.6M304.2 82.1h2.6M304.2 106.7h2.6M305.4 86.2h2.6M305.4 110.8h2.6M309.2 82.4h2.6M309.2 107.1h2.6M313.0 83.6h2.6M313.0 108.2h2.6M317.2 80.4h2.6M317.2 105.1h2.6M326.0 77.7h2.6M326.0 102.3h2.6M327.2 79.7h2.6M327.2 104.5h2.6M324.0 82.7h2.6M324.0 107.3h2.6M328.3 83.2h2.6M328.3 108.0h2.6M331.1 76.6h2.6M331.1 101.4h2.6M334.0 81.1h2.6M334.0 105.9h2.6M321.9 90.2h2.6M321.9 114.8h2.6M329.2 97.2h2.6M329.2 122.0h2.6M332.9 101.4h2.6M332.9 126.1h2.6M340.2 85.5h2.6M340.2 110.3h2.6M341.9 82.0h2.6M341.9 106.8h2.6M344.8 83.2h2.6M344.8 108.0h2.6M347.6 73.7h2.6M347.6 98.4h2.6M349.9 78.0h2.6M349.9 102.7h2.6M351.3 79.7h2.6M351.3 104.5h2.6M293.3 87.7h2.6M293.3 112.3h2.6M351.0 73.4h2.6M351.0 98.1h2.6M353.1 68.7h2.6M353.1 93.5h2.6M356.7 57.7h2.6M356.7 82.5h2.6M355.6 65.5h2.6M355.6 90.3h2.6M357.8 61.5h2.6M357.8 86.3h2.6M354.7 79.9h2.6M354.7 104.7h2.6M371.7 50.8h2.6M371.7 75.7h2.6M380.6 48.3h2.6M380.6 73.1h2.6M363.8 65.7h2.6M363.8 90.5h2.6M374.9 62.4h2.6M374.9 87.3h2.6M373.7 65.6h2.6M373.7 90.4h2.6M384.6 58.0h2.6M384.6 82.9h2.6M393.6 56.6h2.6M393.6 81.5h2.6M394.7 55.2h2.6M394.7 80.1h2.6M395.5 58.5h2.6M395.5 83.4h2.6M403.3 52.7h2.6M403.3 77.6h2.6M359.9 79.9h2.6M359.9 104.7h2.6M372.8 71.3h2.6M372.8 96.1h2.6M381.7 69.0h2.6M381.7 93.9h2.6M390.2 70.1h2.6M390.2 95.0h2.6M400.4 66.0h2.6M400.4 90.9h2.6M404.4 66.6h2.6M404.4 91.6h2.6M368.7 77.5h2.6M368.7 102.3h2.6M370.9 79.6h2.6M370.9 104.4h2.6M382.6 74.0h2.6M382.6 98.9h2.6M379.4 77.3h2.6M379.4 102.2h2.6M358.8 92.0h2.6M358.8 116.8h2.6M362.9 87.1h2.6M362.9 111.9h2.6M377.4 80.1h2.6M377.4 105.0h2.6M402.1 76.2h2.6M402.1 101.2h2.6M376.6 82.6h2.6M376.6 107.5h2.6M367.5 90.9h2.6M367.5 115.8h2.6M378.6 88.0h2.6M378.6 112.9h2.6M361.8 102.5h2.6M361.8 127.3h2.6M365.6 103.0h2.6M365.6 127.9h2.6M388.5 82.0h2.6M388.5 106.9h2.6M387.4 86.3h2.6M387.4 111.2h2.6M391.5 87.6h2.6M391.5 112.5h2.6M389.4 91.3h2.6M389.4 116.2h2.6M396.7 80.1h2.6M396.7 105.0h2.6M399.3 85.8h2.6M399.3 110.7h2.6M401.5 84.8h2.6M401.5 109.7h2.6M406.1 100.6h2.6M406.1 125.5h2.6M433.0 31.9h2.6M433.0 56.9h2.6M447.0 47.8h2.6M447.0 72.9h2.6M453.6 54.4h2.6M453.6 79.5h2.6M415.2 48.3h2.6M415.2 73.2h2.6M426.2 52.8h2.6M426.2 77.8h2.6M444.7 56.6h2.6M444.7 81.7h2.6M447.9 57.8h2.6M447.9 82.8h2.6M457.8 62.7h2.6M457.8 87.7h2.6M460.6 67.2h2.6M460.6 92.3h2.6M440.1 59.4h2.6M440.1 84.5h2.6M455.0 65.6h2.6M455.0 90.7h2.6M424.2 60.0h2.6M424.2 85.0h2.6M431.9 62.4h2.6M431.9 87.5h2.6M430.9 65.2h2.6M430.9 90.2h2.6M443.9 65.0h2.6M443.9 90.1h2.6M449.2 66.9h2.6M449.2 91.9h2.6M412.0 63.3h2.6M412.0 88.3h2.6M414.3 62.4h2.6M414.3 87.4h2.6M409.2 67.9h2.6M409.2 92.8h2.6M423.2 68.5h2.6M423.2 93.5h2.6M446.1 71.2h2.6M446.1 96.3h2.6M456.0 77.4h2.6M456.0 102.4h2.6M458.3 80.2h2.6M458.3 105.3h2.6M416.3 72.4h2.6M416.3 97.4h2.6M425.1 74.9h2.6M425.1 99.9h2.6M427.1 74.7h2.6M427.1 99.7h2.6M407.6 78.9h2.6M407.6 103.9h2.6M417.4 80.6h2.6M417.4 105.5h2.6M439.1 79.5h2.6M439.1 104.5h2.6M443.0 83.1h2.6M443.0 108.1h2.6M449.8 81.3h2.6M449.8 106.3h2.6M421.1 86.2h2.6M421.1 111.2h2.6M433.9 88.8h2.6M433.9 113.8h2.6M435.1 88.0h2.6M435.1 113.0h2.6M436.0 94.2h2.6M436.0 119.2h2.6M418.3 96.3h2.6M418.3 121.2h2.6M478.8 53.3h2.6M478.8 78.5h2.6M487.5 46.7h2.6M487.5 83.3h2.6M491.6 44.9h2.6M491.6 87.6h2.6M489.3 50.0h2.6M489.3 89.2h2.6M492.7 51.4h2.6M492.7 95.6h2.6M475.6 59.9h2.6M475.6 85.1h2.6M472.8 60.5h2.6M472.8 85.6h2.6M482.8 67.2h2.6M482.8 96.6h2.6M476.5 73.7h2.6M476.5 98.8h2.6M480.5 75.8h2.6M480.5 101.7h2.6M483.7 71.9h2.6M483.7 102.6h2.6M485.3 72.2h2.6M485.3 105.3h2.6M488.4 73.0h2.6M488.4 110.8h2.6M461.9 49.1h2.6M461.9 74.2h2.6M469.7 76.5h2.6M469.7 101.6h2.6M474.6 85.5h2.6M474.6 110.7h2.6M481.6 85.6h2.6M481.6 113.2h2.6M477.7 91.2h2.6M477.7 116.3h2.6M468.9 83.7h2.6M468.9 108.9h2.6M464.4 73.5h2.6M464.4 98.6h2.6M471.9 94.1h2.6M471.9 119.2h2.6M486.4 94.7h2.6M486.4 129.5h2.6M490.4 93.7h2.6M490.4 134.5h2.6M465.7 85.7h2.6M465.7 110.8h2.6M467.7 94.4h2.6M467.7 119.6h2.6M466.9 94.1h2.6M466.9 119.2h2.6M470.7 111.6h2.6M470.7 136.8h2.6M368.8 192.7h2.6M368.8 204.1h2.6M372.8 189.5h2.6M372.8 200.9h2.6M379.1 197.9h2.6M379.1 209.3h2.6M385.1 204.9h2.6M385.1 216.3h2.6M370.9 211.7h2.6M370.9 223.1h2.6M379.9 211.4h2.6M379.9 222.8h2.6M376.8 215.9h2.6M376.8 227.3h2.6M388.2 209.2h2.6M388.2 220.6h2.6M389.0 213.8h2.6M389.0 225.2h2.6M386.2 216.6h2.6M386.2 228.0h2.6M381.0 219.1h2.6M381.0 230.5h2.6M382.1 220.4h2.6M382.1 231.8h2.6M387.0 219.6h2.6M387.0 231.0h2.6M390.5 221.1h2.6M390.5 232.5h2.6M392.1 213.8h2.6M392.1 225.2h2.6M393.8 212.6h2.6M393.8 224.0h2.6M395.3 211.8h2.6M395.3 223.2h2.6M396.7 213.0h2.6M396.7 224.4h2.6M394.6 214.1h2.6M394.6 225.5h2.6M398.7 208.8h2.6M398.7 220.2h2.6M400.3 208.7h2.6M400.3 220.1h2.6M398.4 216.0h2.6M398.4 227.4h2.6M401.2 214.0h2.6M401.2 225.4h2.6M402.4 214.6h2.6M402.4 226.0h2.6M406.4 202.2h2.6M406.4 213.6h2.6M408.3 201.0h2.6M408.3 212.4h2.6M407.4 212.0h2.6M407.4 223.4h2.6M411.2 210.5h2.6M411.2 221.9h2.6M412.3 208.8h2.6M412.3 220.2h2.6M405.2 217.0h2.6M405.2 228.4h2.6M409.2 217.2h2.6M409.2 228.6h2.6M404.4 220.2h2.6M404.4 231.6h2.6M403.3 223.9h2.6M403.3 235.3h2.6M413.2 218.2h2.6M413.2 229.6h2.6M414.3 221.3h2.6M414.3 232.7h2.6M416.0 222.3h2.6M416.0 233.7h2.6M417.3 212.1h2.6M417.3 223.5h2.6M418.3 216.9h2.6M418.3 228.3h2.6M410.3 227.0h2.6M410.3 238.4h2.6M393.3 227.7h2.6M393.3 239.1h2.6M368.1 234.0h2.6M368.1 245.4h2.6M415.4 228.3h2.6M415.4 239.7h2.6M370.0 235.8h2.6M370.0 247.2h2.6M374.0 236.3h2.6M374.0 247.7h2.6M422.3 207.3h2.6M422.3 218.7h2.6M421.4 209.5h2.6M421.4 220.9h2.6M424.5 212.5h2.6M424.5 223.9h2.6M420.0 214.5h2.6M420.0 225.9h2.6M425.6 216.6h2.6M425.6 228.0h2.6M426.4 218.3h2.6M426.4 229.7h2.6M428.2 216.3h2.6M428.2 227.7h2.6M430.2 216.2h2.6M430.2 227.6h2.6M427.3 214.6h2.6M427.3 226.0h2.6M431.3 208.4h2.6M431.3 219.8h2.6M432.4 214.0h2.6M432.4 225.4h2.6M435.3 204.0h2.6M435.3 215.4h2.6M434.4 219.9h2.6M434.4 231.3h2.6M436.2 220.2h2.6M436.2 231.6h2.6M437.6 211.0h2.6M437.6 222.4h2.6M438.9 214.1h2.6M438.9 225.5h2.6M441.3 209.0h2.6M441.3 220.4h2.6M442.1 215.1h2.6M442.1 226.5h2.6M443.5 214.1h2.6M443.5 225.5h2.6M444.6 210.9h2.6M444.6 222.3h2.6M445.9 211.7h2.6M445.9 223.1h2.6M448.3 207.8h2.6M448.3 219.2h2.6M449.8 207.6h2.6M449.8 219.0h2.6M450.3 212.5h2.6M450.3 223.9h2.6M452.3 212.7h2.6M452.3 224.1h2.6M454.0 214.8h2.6M454.0 226.2h2.6M453.7 215.8h2.6M453.7 227.2h2.6M455.7 205.1h2.6M455.7 216.5h2.6M457.4 216.8h2.6M457.4 228.2h2.6M459.1 217.6h2.6M459.1 229.0h2.6M460.5 216.5h2.6M460.5 227.9h2.6M461.4 206.3h2.6M461.4 217.7h2.6M462.8 219.1h2.6M462.8 230.5h2.6M463.9 221.5h2.6M463.9 232.9h2.6M464.6 219.4h2.6M464.6 230.8h2.6M465.4 219.6h2.6M465.4 231.0h2.6M467.1 218.9h2.6M467.1 230.3h2.6M469.1 224.3h2.6M469.1 235.7h2.6M470.5 213.5h2.6M470.5 224.9h2.6M471.9 218.6h2.6M471.9 230.0h2.6M472.8 224.9h2.6M472.8 236.3h2.6M446.9 221.1h2.6M446.9 232.5h2.6M447.6 219.7h2.6M447.6 231.1h2.6M451.4 221.1h2.6M451.4 232.5h2.6M456.6 223.1h2.6M456.6 234.5h2.6M419.2 220.0h2.6M419.2 231.4h2.6M423.3 222.2h2.6M423.3 233.6h2.6M433.6 224.8h2.6M433.6 236.2h2.6M440.4 223.2h2.6M440.4 234.6h2.6M467.8 187.4h2.6M467.8 198.8h2.6M473.8 209.3h2.6M473.8 220.7h2.6M474.9 213.1h2.6M474.9 224.4h2.6M476.4 212.1h2.6M476.4 223.4h2.6M477.5 213.1h2.6M477.5 224.4h2.6M478.7 213.7h2.6M478.7 225.1h2.6M475.7 216.6h2.6M475.7 227.9h2.6M479.8 205.8h2.6M479.8 217.2h2.6M480.9 209.9h2.6M480.9 221.3h2.6M482.8 209.1h2.6M482.8 220.4h2.6M481.8 216.2h2.6M481.8 227.6h2.6M484.8 217.8h2.6M484.8 229.2h2.6M483.7 222.4h2.6M483.7 233.8h2.6M485.9 213.7h2.6M485.9 225.1h2.6M486.8 212.8h2.6M486.8 224.2h2.6M488.2 213.1h2.6M488.2 224.4h2.6M489.7 212.4h2.6M489.7 223.8h2.6M490.8 211.2h2.6M490.8 222.6h2.6M488.9 222.1h2.6M488.9 233.4h2.6M491.6 219.1h2.6M491.6 230.4h2.6M492.7 217.8h2.6M492.7 229.2h2.6M493.9 215.6h2.6M493.9 226.9h2.6M495.0 214.3h2.6M495.0 225.7h2.6M496.2 219.9h2.6M496.2 231.3h2.6M498.0 206.6h2.6M498.0 217.9h2.6M499.9 211.8h2.6M499.9 223.2h2.6M499.1 215.6h2.6M499.1 226.9h2.6M501.0 217.8h2.6M501.0 229.2h2.6M502.2 215.6h2.6M502.2 226.9h2.6M503.6 213.7h2.6M503.6 225.1h2.6M505.0 212.8h2.6M505.0 224.2h2.6M505.9 208.1h2.6M505.9 219.4h2.6M509.0 208.3h2.6M509.0 219.7h2.6M508.2 211.6h2.6M508.2 222.9h2.6M513.0 209.3h2.6M513.0 220.7h2.6M511.8 213.1h2.6M511.8 224.4h2.6M507.1 219.6h2.6M507.1 230.9h2.6M510.1 219.6h2.6M510.1 230.9h2.6M503.9 225.3h2.6M503.9 236.7h2.6M511.0 225.9h2.6M511.0 237.3h2.6M404.6 359.7h2.6M404.6 368.9h2.6M406.7 350.4h2.6M406.7 359.6h2.6M407.5 353.0h2.6M407.5 362.2h2.6M408.8 353.4h2.6M408.8 362.6h2.6M409.8 354.4h2.6M409.8 363.6h2.6M410.8 349.6h2.6M410.8 358.8h2.6M411.8 346.9h2.6M411.8 356.1h2.6M412.8 355.5h2.6M412.8 364.7h2.6M413.7 341.8h2.6M413.7 351.0h2.6M414.8 346.0h2.6M414.8 355.2h2.6M415.8 349.3h2.6M415.8 358.5h2.6M416.9 350.5h2.6M416.9 359.7h2.6M417.5 352.1h2.6M417.5 361.3h2.6M418.1 353.3h2.6M418.1 362.5h2.6M418.9 355.6h2.6M418.9 364.8h2.6M419.9 356.6h2.6M419.9 365.8h2.6M420.9 345.9h2.6M420.9 355.1h2.6M421.9 346.0h2.6M421.9 355.2h2.6M423.0 349.7h2.6M423.0 358.9h2.6M423.9 341.1h2.6M423.9 350.3h2.6M424.7 354.0h2.6M424.7 363.2h2.6M425.8 363.0h2.6M425.8 372.2h2.6M427.0 346.4h2.6M427.0 355.6h2.6M428.0 350.5h2.6M428.0 359.7h2.6M429.0 359.1h2.6M429.0 368.3h2.6M430.0 353.6h2.6M430.0 362.8h2.6M431.0 347.1h2.6M431.0 356.3h2.6M432.1 356.7h2.6M432.1 365.9h2.6M433.4 353.3h2.6M433.4 362.5h2.6M434.3 353.8h2.6M434.3 363.0h2.6M435.3 344.7h2.6M435.3 353.9h2.6M435.1 352.2h2.6M435.1 361.4h2.6M438.1 342.9h2.6M438.1 352.1h2.6M437.1 355.5h2.6M437.1 364.7h2.6M439.6 352.4h2.6M439.6 361.6h2.6M441.1 353.2h2.6M441.1 362.4h2.6M440.0 360.2h2.6M440.0 369.4h2.6M442.1 359.2h2.6M442.1 368.4h2.6M443.0 344.4h2.6M443.0 353.6h2.6M444.1 364.5h2.6M444.1 373.7h2.6M445.1 341.7h2.6M445.1 350.9h2.6M446.2 348.0h2.6M446.2 357.2h2.6M447.1 345.8h2.6M447.1 355.0h2.6M448.0 354.6h2.6M448.0 363.8h2.6M449.0 359.9h2.6M449.0 369.1h2.6M450.2 349.9h2.6M450.2 359.1h2.6M451.3 346.6h2.6M451.3 355.8h2.6M452.5 347.6h2.6M452.5 356.8h2.6" stroke="#777" stroke-width="0.8" fill="none"/>
<path d="M299.1 67.4h1.2M308.0 61.8h1.2M312.8 64.9h1.2M314.8 72.8h1.2M321.1 75.1h1.2M336.4 70.5h1.2M337.9 73.2h1.2M341.7 67.5h1.2M347.6 71.6h1.2M302.9 82.4h1.2M311.8 82.4h1.2M319.9 82.4h1.2M323.6 84.0h1.2M304.0 85.2h1.2M315.9 85.2h1.2M339.8 83.6h1.2M344.4 83.0h1.2M347.2 83.2h1.2M349.5 78.8h1.2M309.1 90.0h1.2M304.9 94.4h1.2M306.1 98.5h1.2M309.9 94.8h1.2M313.7 95.9h1.2M317.9 92.8h1.2M326.7 90.0h1.2M327.9 92.1h1.2M324.7 95.0h1.2M329.0 95.6h1.2M331.8 89.0h1.2M334.7 93.5h1.2M322.6 102.5h1.2M329.9 109.6h1.2M333.6 113.8h1.2M340.9 97.9h1.2M342.6 94.4h1.2M345.5 95.6h1.2M348.3 86.1h1.2M350.6 90.3h1.2M352.0 92.1h1.2M294.0 100.0h1.2M351.7 85.8h1.2M353.8 81.1h1.2M357.4 70.1h1.2M356.3 77.9h1.2M358.5 73.9h1.2M355.4 92.3h1.2M372.4 63.3h1.2M381.3 60.7h1.2M364.5 78.1h1.2M375.6 74.8h1.2M374.4 78.0h1.2M385.3 70.5h1.2M394.3 69.1h1.2M395.4 67.6h1.2M396.2 71.0h1.2M404.0 65.2h1.2M360.6 92.3h1.2M373.5 83.7h1.2M382.4 81.4h1.2M390.9 82.6h1.2M401.1 78.5h1.2M405.1 79.1h1.2M369.4 89.9h1.2M371.6 92.0h1.2M383.3 86.5h1.2M380.1 89.7h1.2M359.5 104.4h1.2M363.6 99.5h1.2M378.1 92.5h1.2M402.8 88.7h1.2M377.3 95.0h1.2M368.2 103.3h1.2M379.3 100.4h1.2M362.5 114.9h1.2M366.3 115.4h1.2M389.2 94.4h1.2M388.1 98.8h1.2M392.2 100.0h1.2M390.1 103.7h1.2M397.4 92.6h1.2M400.0 98.2h1.2M402.2 97.2h1.2M406.8 113.1h1.2M433.7 44.4h1.2M447.7 60.4h1.2M454.3 66.9h1.2M415.9 60.8h1.2M426.9 65.3h1.2M445.4 69.1h1.2M448.6 70.3h1.2M458.5 75.2h1.2M461.3 79.7h1.2M440.8 71.9h1.2M455.7 78.1h1.2M424.9 72.5h1.2M432.6 75.0h1.2M431.6 77.7h1.2M444.6 77.5h1.2M449.9 79.4h1.2M412.7 75.8h1.2M415.0 74.9h1.2M409.9 80.4h1.2M423.9 81.0h1.2M446.8 83.8h1.2M456.7 89.9h1.2M459.0 92.7h1.2M417.0 84.9h1.2M425.8 87.4h1.2M427.8 87.2h1.2M408.3 91.4h1.2M418.1 93.1h1.2M439.8 92.0h1.2M443.7 95.6h1.2M450.5 93.8h1.2M421.8 98.7h1.2M434.6 101.3h1.2M435.8 100.5h1.2M436.7 106.7h1.2M419.0 108.8h1.2M479.5 65.9h1.2M488.2 65.0h1.2M492.3 66.2h1.2M490.0 69.6h1.2M493.4 73.5h1.2M476.3 72.5h1.2M473.5 73.1h1.2M483.5 81.9h1.2M477.2 86.2h1.2M481.2 88.8h1.2M484.4 87.2h1.2M486.0 88.8h1.2M489.1 91.9h1.2M462.6 61.7h1.2M470.4 89.0h1.2M475.3 98.1h1.2M482.3 99.4h1.2M478.4 103.8h1.2M469.6 96.3h1.2M465.1 86.0h1.2M472.6 106.7h1.2M487.1 112.1h1.2M491.1 114.1h1.2M466.4 98.2h1.2M468.4 107.0h1.2M467.6 106.7h1.2M471.4 124.2h1.2M369.5 198.4h1.2M373.5 195.2h1.2M379.8 203.6h1.2M385.8 210.6h1.2M371.6 217.4h1.2M380.6 217.1h1.2M377.5 221.6h1.2M388.9 214.9h1.2M389.7 219.5h1.2M386.9 222.3h1.2M381.7 224.8h1.2M382.8 226.1h1.2M387.7 225.3h1.2M391.2 226.8h1.2M392.8 219.5h1.2M394.5 218.3h1.2M396.0 217.5h1.2M397.4 218.7h1.2M395.3 219.8h1.2M399.4 214.5h1.2M401.0 214.4h1.2M399.1 221.7h1.2M401.9 219.7h1.2M403.1 220.3h1.2M407.1 207.9h1.2M409.0 206.7h1.2M408.1 217.7h1.2M411.9 216.2h1.2M413.0 214.5h1.2M405.9 222.7h1.2M409.9 222.9h1.2M405.1 225.9h1.2M404.0 229.6h1.2M413.9 223.9h1.2M415.0 227.0h1.2M416.7 228.0h1.2M418.0 217.8h1.2M419.0 222.6h1.2M411.0 232.7h1.2M394.0 233.4h1.2M368.8 239.7h1.2M416.1 234.0h1.2M370.7 241.5h1.2M374.7 242.0h1.2M423.0 213.0h1.2M422.1 215.2h1.2M425.2 218.2h1.2M420.7 220.2h1.2M426.3 222.3h1.2M427.1 224.0h1.2M428.9 222.0h1.2M430.9 221.9h1.2M428.0 220.3h1.2M432.0 214.1h1.2M433.1 219.7h1.2M436.0 209.7h1.2M435.1 225.6h1.2M436.9 225.9h1.2M438.3 216.7h1.2M439.6 219.8h1.2M442.0 214.7h1.2M442.8 220.8h1.2M444.2 219.8h1.2M445.3 216.6h1.2M446.6 217.4h1.2M449.0 213.5h1.2M450.5 213.3h1.2M451.0 218.2h1.2M453.0 218.4h1.2M454.7 220.5h1.2M454.4 221.5h1.2M456.4 210.8h1.2M458.1 222.5h1.2M459.8 223.3h1.2M461.2 222.2h1.2M462.1 212.0h1.2M463.5 224.8h1.2M464.6 227.2h1.2M465.3 225.1h1.2M466.1 225.3h1.2M467.8 224.6h1.2M469.8 230.0h1.2M471.2 219.2h1.2M472.6 224.3h1.2M473.5 230.6h1.2M447.6 226.8h1.2M448.3 225.4h1.2M452.1 226.8h1.2M457.3 228.8h1.2M419.9 225.7h1.2M424.0 227.9h1.2M434.3 230.5h1.2M441.1 228.9h1.2M468.5 193.1h1.2M474.5 215.0h1.2M475.6 218.8h1.2M477.1 217.8h1.2M478.2 218.8h1.2M479.4 219.4h1.2M476.4 222.2h1.2M480.5 211.5h1.2M481.6 215.6h1.2M483.5 214.8h1.2M482.5 221.9h1.2M485.5 223.5h1.2M484.4 228.1h1.2M486.6 219.4h1.2M487.5 218.5h1.2M488.9 218.8h1.2M490.4 218.1h1.2M491.5 216.9h1.2M489.6 227.8h1.2M492.3 224.8h1.2M493.4 223.5h1.2M494.6 221.2h1.2M495.7 220.0h1.2M496.9 225.6h1.2M498.7 212.2h1.2M500.6 217.5h1.2M499.8 221.2h1.2M501.7 223.5h1.2M502.9 221.2h1.2M504.3 219.4h1.2M505.7 218.5h1.2M506.6 213.8h1.2M509.7 214.0h1.2M508.9 217.2h1.2M513.7 215.0h1.2M512.5 218.8h1.2M507.8 225.2h1.2M510.8 225.2h1.2M504.6 231.0h1.2M511.7 231.6h1.2M405.3 364.3h1.2M407.4 355.0h1.2M408.2 357.6h1.2M409.5 358.0h1.2M410.5 359.0h1.2M411.5 354.2h1.2M412.5 351.5h1.2M413.5 360.1h1.2M414.4 346.4h1.2M415.5 350.6h1.2M416.5 353.9h1.2M417.6 355.1h1.2M418.2 356.7h1.2M418.8 357.9h1.2M419.6 360.2h1.2M420.6 361.2h1.2M421.6 350.5h1.2M422.6 350.6h1.2M423.7 354.3h1.2M424.6 345.7h1.2M425.4 358.6h1.2M426.5 367.6h1.2M427.7 351.0h1.2M428.7 355.1h1.2M429.7 363.7h1.2M430.7 358.2h1.2M431.7 351.7h1.2M432.8 361.3h1.2M434.1 357.9h1.2M435.0 358.4h1.2M436.0 349.3h1.2M435.8 356.8h1.2M438.8 347.5h1.2M437.8 360.1h1.2M440.3 357.0h1.2M441.8 357.8h1.2M440.7 364.8h1.2M442.8 363.8h1.2M443.7 349.0h1.2M444.8 369.1h1.2M445.8 346.3h1.2M446.9 352.6h1.2M447.8 350.4h1.2M448.7 359.2h1.2M449.7 364.5h1.2M450.9 354.5h1.2M452.0 351.2h1.2M453.2 352.2h1.2" stroke="#444" stroke-width="1.3" fill="none"/>
<line x1="294.5" x2="527.5" y1="86.0" y2="86.0" stroke="#f00" stroke-width="1"/>
<line x1="294.5" x2="527.5" y1="221.0" y2="221.0" stroke="#f00" stroke-width="1"/>
<line x1="294.5" x2="527.5" y1="356.0" y2="356.0" stroke="#f00" stroke-width="1"/>
<g fill="none" stroke="#707070" stroke-width="1">
<rect x="37.0" y="18.5" width="257.5" height="418.5"/>
<rect x="294.5" y="18.5" width="233.0" height="418.5"/>
<path d="M55.5 18.5v3M55.5 437.0v-3M311.0 18.5v3M311.0 437.0v-3M92.2 18.5v3M92.2 437.0v-3M344.4 18.5v3M344.4 437.0v-3M129.0 18.5v3M129.0 437.0v-3M377.8 18.5v3M377.8 437.0v-3M165.8 18.5v3M165.8 437.0v-3M411.1 18.5v3M411.1 437.0v-3M202.5 18.5v3M202.5 437.0v-3M444.5 18.5v3M444.5 437.0v-3M239.2 18.5v3M239.2 437.0v-3M477.9 18.5v3M477.9 437.0v-3M276.0 18.5v3M276.0 437.0v-3M511.3 18.5v3M511.3 437.0v-3M37.0 18.5h3M294.5 18.5h-3M294.5 18.5h3M527.5 18.5h-3M37.0 86.0h3M294.5 86.0h-3M294.5 86.0h3M527.5 86.0h-3M37.0 153.5h3M294.5 153.5h-3M294.5 153.5h3M527.5 153.5h-3M37.0 221.0h3M294.5 221.0h-3M294.5 221.0h3M527.5 221.0h-3M37.0 288.5h3M294.5 288.5h-3M294.5 288.5h3M527.5 288.5h-3M37.0 356.0h3M294.5 356.0h-3M294.5 356.0h3M527.5 356.0h-3M37.0 423.5h3M294.5 423.5h-3M294.5 423.5h3M527.5 423.5h-3"/>
</g>
</svg></body></html>
